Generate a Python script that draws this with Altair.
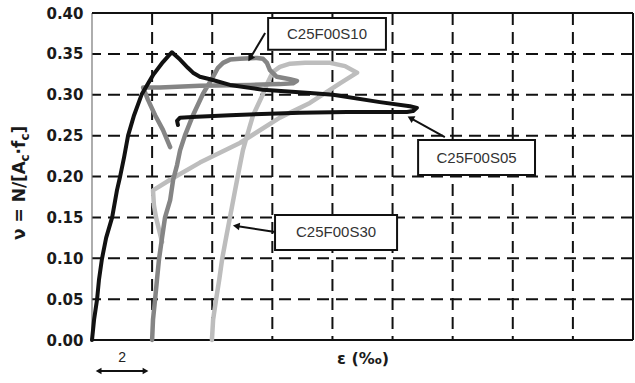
import math
import altair as alt
import pandas as pd

# Strain ε (‰) and normalised axial load ν = N/(Ac·fc), in loading order
s05_eps = [0, 0.07, 0.17, 0.23, 0.33, 0.47, 0.67, 0.83, 0.93, 1.07,
           1.20, 1.40, 1.66, 2.03, 2.36, 2.53, 2.66, 2.93, 3.19, 3.36,
           3.59, 3.93, 4.59, 5.69, 7.25, 8.02, 9.58, 10.58, 10.81, 10.68,
           10.48, 8.48, 6.92, 4.59, 3.49, 2.93, 2.83, 2.86]
s05_nu = [0, 0.025, 0.050, 0.073, 0.099, 0.125, 0.150, 0.183, 0.199, 0.224,
          0.250, 0.275, 0.301, 0.324, 0.340, 0.347, 0.352, 0.343, 0.333, 0.327,
          0.322, 0.319, 0.312, 0.306, 0.302, 0.300, 0.291, 0.286, 0.284, 0.280,
          0.279, 0.279, 0.278, 0.275, 0.273, 0.272, 0.268, 0.263]

s10_eps = [2.00, 2.03, 2.10, 2.16, 2.23, 2.33, 2.43, 2.60, 2.70, 2.83,
           2.93, 3.09, 3.36, 3.69, 4.03, 4.19, 4.36, 4.59, 4.92, 5.49,
           5.69, 5.82, 5.92, 6.15, 6.59, 6.82, 6.69, 6.25, 5.26, 3.59,
           2.26, 1.70, 1.86, 2.10, 2.36, 2.60]
s10_nu = [0, 0.025, 0.050, 0.073, 0.099, 0.125, 0.150, 0.171, 0.196, 0.214,
          0.232, 0.250, 0.275, 0.301, 0.322, 0.333, 0.339, 0.343, 0.344, 0.345,
          0.344, 0.339, 0.330, 0.322, 0.319, 0.317, 0.314, 0.313, 0.312, 0.311,
          0.309, 0.309, 0.294, 0.275, 0.257, 0.236]

s30_eps = [3.99, 4.03, 4.13, 4.23, 4.33, 4.46, 4.59, 4.76, 4.89, 5.02,
           5.16, 5.36, 5.69, 5.86, 6.02, 6.25, 6.59, 7.09, 7.92, 8.42,
           8.82, 8.25, 7.25, 6.25, 4.92, 3.59, 2.60, 2.03, 2.06, 2.13,
           2.23, 2.33]
s30_nu = [0, 0.025, 0.050, 0.073, 0.099, 0.125, 0.150, 0.183, 0.208, 0.232,
          0.250, 0.275, 0.301, 0.316, 0.328, 0.334, 0.338, 0.339, 0.339, 0.335,
          0.327, 0.314, 0.290, 0.272, 0.241, 0.217, 0.196, 0.183, 0.165, 0.150,
          0.135, 0.120]

# Axis ticks and grid
y_ticks = [0.0, 0.05, 0.10, 0.15, 0.20, 0.25, 0.30, 0.35, 0.40]
x_grid = [2, 4, 6, 8, 10, 12, 14, 16]
y_grid = [0.05, 0.10, 0.15, 0.20, 0.25, 0.30, 0.35]

# Callout labels: box corners, text centre and arrow (from box -> to curve)
labels = ["C25F00S10", "C25F00S05", "C25F00S30"]
box_x0 = [5.86, 10.85, 6.09]
box_x1 = [9.78, 14.74, 10.15]
box_y0 = [0.355, 0.2018, 0.1101]
box_y1 = [0.394, 0.2446, 0.1529]
arrow_x0 = [5.76, 11.74, 6.09]
arrow_y0 = [0.3755, 0.2483, 0.1321]
arrow_x1 = [5.26, 10.60, 4.80]
arrow_y1 = [0.3445, 0.2715, 0.1395]

W, H = 541, 327
XMAX, YMAX = 18, 0.4

xs = alt.Scale(domain=[0, XMAX], nice=False, zero=False)
ys = alt.Scale(domain=[0, YMAX], nice=False, zero=False)

X_AXIS = alt.Axis(title="ε (‰)", labels=False, ticks=False, domain=False, grid=False,
                  titleFont="DejaVu Sans", titleFontWeight="bold", titleFontSize=16,
                  titleColor="#1a1a1a", titlePadding=10)
Y_AXIS = alt.Axis(title=None, values=y_ticks, format=".2f", ticks=False, domain=False,
                  grid=False, labelFont="DejaVu Sans", labelFontWeight="bold",
                  labelFontSize=15, labelColor="#1a1a1a", labelPadding=9)


def X(field, **kw):
    return alt.X(field, type="quantitative", scale=xs, axis=X_AXIS, **kw)


def Y(field, **kw):
    return alt.Y(field, type="quantitative", scale=ys, axis=Y_AXIS, **kw)


def heading(x0, y0, x1, y1):
    # screen direction (clockwise from up) of a segment, for rotating arrowheads
    dx = (x1 - x0) * W / XMAX
    dy = -(y1 - y0) * H / YMAX
    return math.degrees(math.atan2(dx, -dy)) % 360


def curve(eps, nu):
    return pd.DataFrame({"x": eps, "y": nu, "i": range(len(eps))})


# dashed grid
vgrid = alt.Chart(pd.DataFrame({"x": x_grid})).mark_rule(
    color="#111", strokeWidth=2, strokeDash=[12, 7]).encode(x=X("x"))
hgrid = alt.Chart(pd.DataFrame({"y": y_grid})).mark_rule(
    color="#111", strokeWidth=2, strokeDash=[12, 7]).encode(y=Y("y"))

# frame
frame_v = alt.Chart(pd.DataFrame({"x": [0, XMAX], "c": ["#777", "#111"], "w": [1.2, 2]})).mark_rule().encode(
    x=X("x"), color=alt.Color("c:N", scale=None), strokeWidth=alt.StrokeWidth("w:Q", scale=None))
frame_h = alt.Chart(pd.DataFrame({"y": [0, YMAX]})).mark_rule(color="#111", strokeWidth=2).encode(y=Y("y"))

line_kw = dict(strokeJoin="round", strokeCap="round")
l30 = alt.Chart(curve(s30_eps, s30_nu)).mark_line(color="#bdbdbd", strokeWidth=4.5, **line_kw).encode(
    x=X("x"), y=Y("y"), order="i:Q")
l10 = alt.Chart(curve(s10_eps, s10_nu)).mark_line(color="#858585", strokeWidth=4.5, **line_kw).encode(
    x=X("x"), y=Y("y"), order="i:Q")
l05 = alt.Chart(curve(s05_eps, s05_nu)).mark_line(color="#111111", strokeWidth=4, **line_kw).encode(
    x=X("x"), y=Y("y"), order="i:Q")

ann = pd.DataFrame({
    "label": labels,
    "x0": box_x0, "x1": box_x1, "y0": box_y0, "y1": box_y1,
    "ax0": arrow_x0, "ay0": arrow_y0, "ax1": arrow_x1, "ay1": arrow_y1,
})
ann["cx"] = (ann["x0"] + ann["x1"]) / 2
ann["cy"] = (ann["y0"] + ann["y1"]) / 2
ann["ang"] = [heading(a, b, c, d) for a, b, c, d in zip(arrow_x0, arrow_y0, arrow_x1, arrow_y1)]

arrows = alt.Chart(ann).mark_rule(color="#111", strokeWidth=2).encode(
    x=X("ax0"), y=Y("ay0"), x2="ax1:Q", y2="ay1:Q")
heads = alt.Chart(ann).mark_point(shape="triangle-up", filled=True, size=60, color="#111", opacity=1).encode(
    x=X("ax1"), y=Y("ay1"), angle=alt.Angle("ang:Q", scale=None))
boxes = alt.Chart(ann).mark_rect(fill="white", stroke="#111", strokeWidth=2).encode(
    x=X("x0"), x2="x1:Q", y=Y("y0"), y2="y1:Q")
texts = alt.Chart(ann).mark_text(font="Liberation Sans", fontSize=15, color="#333").encode(
    x=X("cx"), y=Y("cy"), text="label:N")

# strain scale bar under the axis: a 2 ‰ span
bar = pd.DataFrame({"x": [0.2], "x2": [1.8]})
scale_rule = alt.Chart(bar).mark_rule(color="#111", strokeWidth=2).encode(
    x=X("x"), x2="x2:Q", y=alt.value(358))
scale_heads = alt.Chart(pd.DataFrame({"x": [0.22, 1.78], "s": ["triangle-left", "triangle-right"]})).mark_point(
    filled=True, size=45, color="#111", opacity=1).encode(
    x=X("x"), y=alt.value(358), shape=alt.Shape("s:N", scale=None))
scale_text = alt.Chart(pd.DataFrame({"x": [1.0], "t": ["2"]})).mark_text(
    font="Liberation Sans", fontSize=14, color="#222").encode(x=X("x"), y=alt.value(345), text="t:N")

# y-axis title with subscripts: ν = N/[Ac·fc], read bottom to top
title_parts = [
    ("ν = N/[A", 17, 0, 0),
    ("c", 12, 4, 78.5),
    ("·f", 17, 0, 85.6),
    ("c", 12, 4, 99.5),
    ("]", 17, 0, 106.6),
]
ytitle_layers = []
for txt, size, shift, off in title_parts:
    ytitle_layers.append(
        alt.Chart(pd.DataFrame({"t": [txt]})).mark_text(
            font="DejaVu Sans", fontWeight="bold", fontSize=size, color="#1a1a1a",
            angle=270, align="left", baseline="alphabetic",
        ).encode(x=alt.value(-67 + shift), y=alt.value(227 - off), text="t:N")
    )

chart = alt.layer(
    vgrid, hgrid, frame_v, frame_h, l30, l10, l05,
    arrows, heads, boxes, texts,
    scale_rule, scale_heads, scale_text, *ytitle_layers,
).properties(
    width=W, height=H,
    padding={"left": 92, "top": 13, "right": 2, "bottom": 43},
    autosize=alt.AutoSizeParams(type="none"),
    background="white",
).configure_view(stroke=None)

chart.save("out.html", embed_options={"renderer": "svg", "actions": False})
